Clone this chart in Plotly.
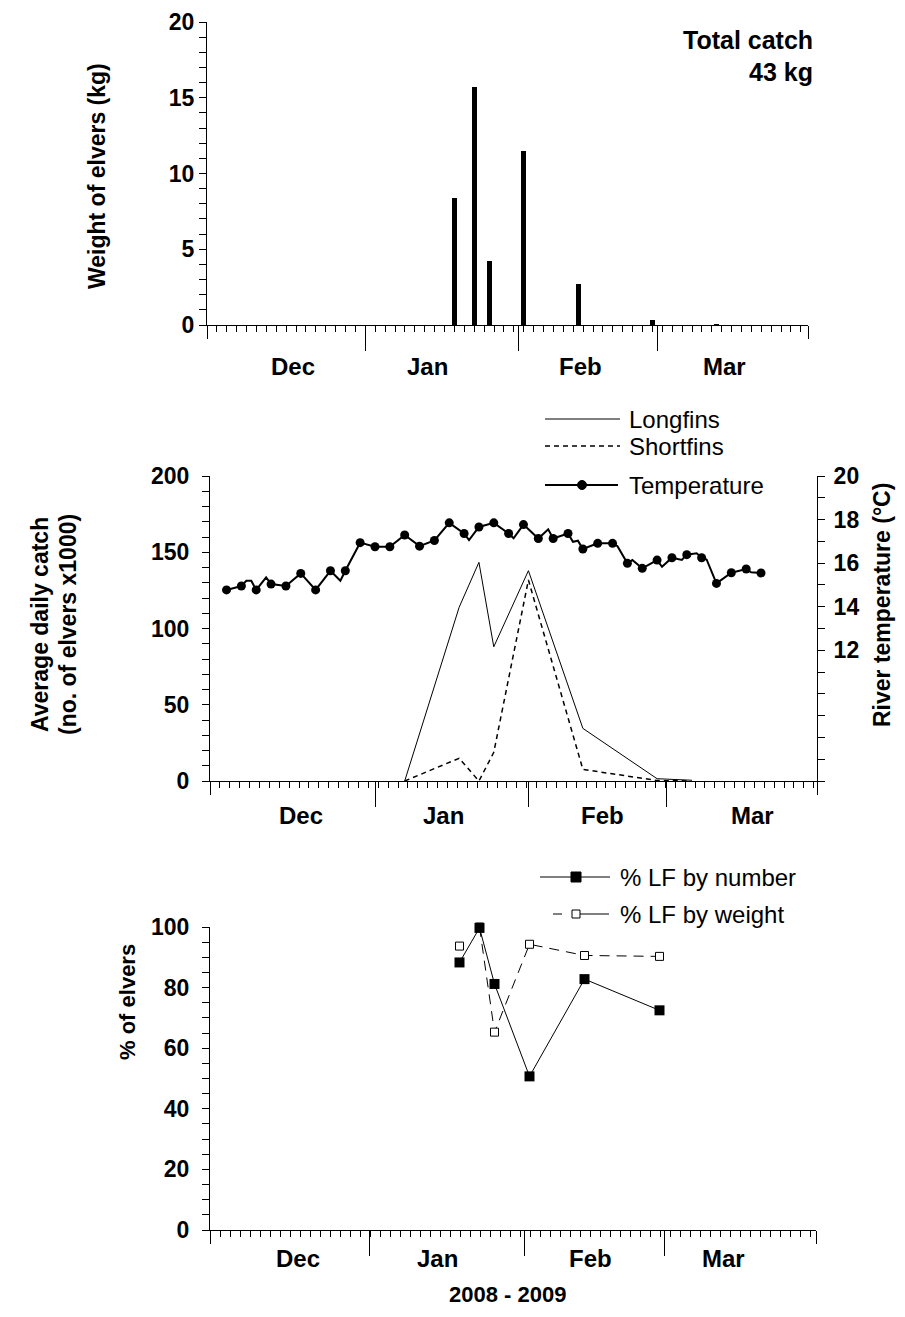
import pandas as pd
import plotly.graph_objects as go

# ---------------- data ----------------
sample_dates = ["2009-01-19", "2009-01-23", "2009-01-26", "2009-02-02", "2009-02-13", "2009-02-28"]

bar_dates = sample_dates + ["2009-03-13"]
bar_kg = [8.4, 15.7, 4.2, 11.5, 2.7, 0.35, 0.05]

catch_dates = ["2009-01-07", "2009-01-18", "2009-01-22", "2009-01-25", "2009-02-01",
               "2009-02-12", "2009-02-27", "2009-03-06"]
longfins = [0, 113.9, 143.4, 88.0, 137.9, 34.5, 1.5, 0.5]
shortfins = [0, 14.9, 0, 18.8, 131.8, 7.6, 0.3, 0]

temp_marker_dates = pd.date_range("2008-12-02", periods=37, freq="3D")
temp_marker_vals = [14.77, 14.95, 14.77, 15.04, 14.95, 15.53, 14.77, 15.65, 15.65, 16.94,
                    16.75, 16.75, 17.29, 16.78, 17.04, 17.85, 17.36, 17.66, 17.85, 17.36,
                    17.77, 17.13, 17.13, 17.36, 16.65, 16.91, 16.91, 15.99, 15.76, 16.14,
                    16.25, 16.39, 16.25, 15.07, 15.56, 15.73, 15.55]
temp_extra_dates = ["2008-12-06", "2008-12-07", "2008-12-10", "2008-12-25", "2009-01-20",
                    "2009-01-29", "2009-02-05", "2009-02-10", "2009-02-11", "2009-02-19",
                    "2009-02-22", "2009-02-28", "2009-03-04", "2009-03-07", "2009-03-09",
                    "2009-03-18"]
temp_extra_vals = [15.19, 15.19, 15.35, 15.19, 17.06, 17.14, 17.55, 16.98, 17.03, 16.78,
                   16.14, 15.83, 16.15, 16.45, 16.17, 15.58]

pct_number = [88.3, 99.7, 81.2, 50.7, 82.8, 72.5]
pct_weight = [93.7, 100.0, 65.3, 94.3, 90.6, 90.3]

month_names = ["Dec", "Jan", "Feb", "Mar"]
month_starts = ["2009-01-01", "2009-02-01", "2009-03-01"]
temp_label_ticks = [12, 14, 16, 18, 20]

# ---------------- layout helpers ----------------
PAGE_W, PAGE_H = 905, 1317
OFF = 8                      # default page body margin
W, H = PAGE_W - 2 * OFF, PAGE_H - 2 * OFF
DAY = 86400000
FONT = "Liberation Sans, Arial, Helvetica, sans-serif"


def px(x):
    return (x - OFF) / W


def py(y):
    return 1 - (y - OFF) / H


panels = [
    dict(left=207, right=808, top=22, bottom=325, jan1=365.5, ppd=4.949,
         labels=[293, 427, 580, 724], ly=366),
    dict(left=210, right=817, top=476, bottom=781, jan1=375.0, ppd=4.949,
         labels=[301, 443, 602, 752], ly=816),
    dict(left=210, right=816, top=927, bottom=1230, jan1=369.5, ppd=5.0,
         labels=[298, 437, 590, 723], ly=1258),
]
for p in panels:
    jan1 = pd.Timestamp("2009-01-01")
    start = jan1 - pd.Timedelta(days=(p["jan1"] - p["left"]) / p["ppd"])
    end = start + pd.Timedelta(days=(p["right"] - p["left"]) / p["ppd"])
    p["range"] = [start.isoformat(), end.isoformat()]

tickfont = dict(family=FONT, size=23, color="black", weight="bold")

fig = go.Figure()

# --- top: weight bars
fig.add_trace(go.Bar(x=bar_dates, y=bar_kg, width=[DAY] * len(bar_kg),
                     marker=dict(color="black", line=dict(width=0)),
                     xaxis="x", yaxis="y"))

# --- middle: catch + temperature
fig.add_trace(go.Scatter(x=catch_dates, y=longfins, mode="lines",
                         line=dict(color="black", width=1), xaxis="x2", yaxis="y2"))
fig.add_trace(go.Scatter(x=catch_dates, y=shortfins, mode="lines",
                         line=dict(color="black", width=1.5, dash="5px,4px"), xaxis="x2", yaxis="y2"))

tl = pd.DataFrame({"d": list(temp_marker_dates) + list(pd.to_datetime(temp_extra_dates)),
                   "t": temp_marker_vals + temp_extra_vals}).sort_values("d")
fig.add_trace(go.Scatter(x=tl["d"], y=tl["t"], mode="lines",
                         line=dict(color="black", width=2), xaxis="x2", yaxis="y3"))
fig.add_trace(go.Scatter(x=temp_marker_dates, y=temp_marker_vals, mode="markers",
                         marker=dict(color="black", size=9, symbol="circle"),
                         xaxis="x2", yaxis="y3", cliponaxis=False))

# --- bottom: percentages
fig.add_trace(go.Scatter(x=sample_dates[1:], y=pct_weight[1:], mode="lines",
                         line=dict(color="black", width=1, dash="10px,7px"),
                         xaxis="x3", yaxis="y4"))
fig.add_trace(go.Scatter(x=sample_dates, y=pct_weight, mode="markers",
                         marker=dict(color="white", size=8, symbol="square",
                                     line=dict(color="black", width=1)),
                         xaxis="x3", yaxis="y4", cliponaxis=False))
fig.add_trace(go.Scatter(x=sample_dates, y=pct_number, mode="lines+markers",
                         line=dict(color="black", width=1),
                         marker=dict(color="black", size=10, symbol="square"),
                         xaxis="x3", yaxis="y4", cliponaxis=False))

layout = dict(width=W, height=H, margin=dict(l=0, r=0, t=0, b=0, pad=0, autoexpand=False),
              paper_bgcolor="white", plot_bgcolor="white", showlegend=False,
              font=dict(family=FONT, color="black"), bargap=0)

xnames = ["x", "x2", "x3"]
ynames = ["y", "y2", "y4"]
for i, p in enumerate(panels):
    key = "xaxis" if i == 0 else f"xaxis{i + 1}"
    layout[key] = dict(domain=[px(p["left"]), px(p["right"])], anchor=ynames[i], type="date",
                       range=p["range"], tickmode="array", tickvals=month_starts,
                       ticks="outside", ticklen=25, tickwidth=1, tickcolor="black",
                       minor=dict(tickmode="linear", tick0=p["range"][0], dtick=2 * DAY,
                                  ticks="outside", ticklen=6, tickwidth=1, tickcolor="black",
                                  showgrid=False),
                       showticklabels=False, showline=True, linecolor="black", linewidth=1,
                       showgrid=False, zeroline=False, automargin=False)
    # axis end ticks (carried by an invisible helper trace on an overlaying axis)
    ename = f"x{4 + i}"
    layout[f"xaxis{4 + i}"] = dict(overlaying=xnames[i], anchor=ynames[i], type="date",
                                   range=p["range"], tickmode="array", tickvals=p["range"],
                                   ticks="outside", ticklen=13, tickwidth=1, tickcolor="black",
                                   showticklabels=False, showline=False, showgrid=False,
                                   zeroline=False, side="bottom", automargin=False)
    fig.add_trace(go.Scatter(x=p["range"], y=[0, 0], mode="lines", opacity=0,
                             line=dict(width=0), hoverinfo="skip",
                             xaxis=ename, yaxis=ynames[i]))

ybase = dict(ticks="outside", ticklen=7, tickwidth=1, tickcolor="black", showline=True,
             linecolor="black", linewidth=1, showgrid=False, zeroline=False, tickfont=tickfont,
             automargin=False)
layout["yaxis"] = dict(ybase, domain=[py(panels[0]["bottom"]), py(panels[0]["top"])], anchor="x",
                       range=[0, 20], tickmode="linear", tick0=0, dtick=5,
                       minor=dict(dtick=1, ticks="outside", ticklen=7, tickcolor="black", tickwidth=1))
layout["yaxis2"] = dict(ybase, domain=[py(panels[1]["bottom"]), py(panels[1]["top"])], anchor="x2",
                        range=[0, 200], tickmode="linear", tick0=0, dtick=50, ticklabelstandoff=8,
                        minor=dict(dtick=10, ticks="outside", ticklen=7, tickcolor="black", tickwidth=1))
layout["yaxis3"] = dict(ybase, overlaying="y2", side="right", anchor="x2", range=[6, 20],
                        tickmode="array", tickvals=temp_label_ticks, ticklabelstandoff=4,
                        minor=dict(tickmode="linear", tick0=6, dtick=1, ticks="outside", ticklen=7,
                                   tickcolor="black", tickwidth=1))
layout["yaxis4"] = dict(ybase, domain=[py(panels[2]["bottom"]), py(panels[2]["top"])], anchor="x3",
                        range=[0, 100], tickmode="linear", tick0=0, dtick=20, ticklabelstandoff=8,
                        minor=dict(dtick=5, ticks="outside", ticklen=7, tickcolor="black", tickwidth=1))

fig.update_layout(**layout)

# ---------------- text ----------------
ann = []
bold = dict(family=FONT, size=23, color="black", weight="bold")
reg = dict(family=FONT, size=24, color="black")
for p in panels:
    for name, lx in zip(month_names, p["labels"]):
        ann.append(dict(x=px(lx), y=py(p["ly"]), text=name, font=dict(bold, size=24)))

ann += [
    dict(x=px(97), y=py(176), text="Weight of elvers (kg)", textangle=-90, font=bold),
    dict(x=px(40), y=py(625), text="Average daily catch", textangle=-90, font=bold),
    dict(x=px(68), y=py(625), text="(no. of elvers x1000)", textangle=-90, font=bold),
    dict(x=px(882), y=py(605), text="River temperature (\u00b0C)", textangle=-90, font=bold),
    dict(x=px(127), y=py(1002), text="% of elvers", textangle=-90, font=dict(bold, size=22)),
    dict(x=px(507), y=py(1294), text="2008 - 2009", font=dict(bold, size=22)),
    dict(x=px(815), y=py(40), text="Total catch", xanchor="right", font=dict(bold, size=25)),
    dict(x=px(815), y=py(72), text="43 kg", xanchor="right", font=dict(bold, size=25)),
    dict(x=px(627), y=py(419), text="Longfins", xanchor="left", font=reg),
    dict(x=px(627), y=py(446), text="Shortfins", xanchor="left", font=reg),
    dict(x=px(627), y=py(485), text="Temperature", xanchor="left", font=reg),
    dict(x=px(618), y=py(877), text="% LF by number", xanchor="left", font=reg),
    dict(x=px(618), y=py(914), text="% LF by weight", xanchor="left", font=reg),
]
for a in ann:
    a.setdefault("xref", "paper")
    a.setdefault("yref", "paper")
    a.setdefault("showarrow", False)
    a.setdefault("yanchor", "middle")
    a.setdefault("xanchor", "center")
fig.update_layout(annotations=ann)

# ---------------- legend glyphs ----------------
def hline(x0, x1, y, width=1, dash="solid"):
    return dict(type="line", xref="paper", yref="paper", x0=px(x0), x1=px(x1), y0=py(y), y1=py(y),
                line=dict(color="black", width=width, dash=dash))


def box(cx, cy, size, fill, kind="rect"):
    h = size / 2
    return dict(type=kind, xref="paper", yref="paper", x0=px(cx - h), x1=px(cx + h),
                y0=py(cy + h), y1=py(cy - h), fillcolor=fill, line=dict(color="black", width=1))


shapes = [
    hline(545, 620, 419, 1),
    hline(545, 620, 446, 1.5, "5px,4px"),
    hline(545, 618, 485, 2),
    box(582, 485, 9, "black", "circle"),
    hline(540, 610, 877, 1),
    box(576, 877, 10, "black"),
    hline(553, 562, 914, 1),
    hline(580, 609, 914, 1),
    box(576, 914, 8, "white"),
]
fig.update_layout(shapes=shapes)

fig.write_html("out.html")
